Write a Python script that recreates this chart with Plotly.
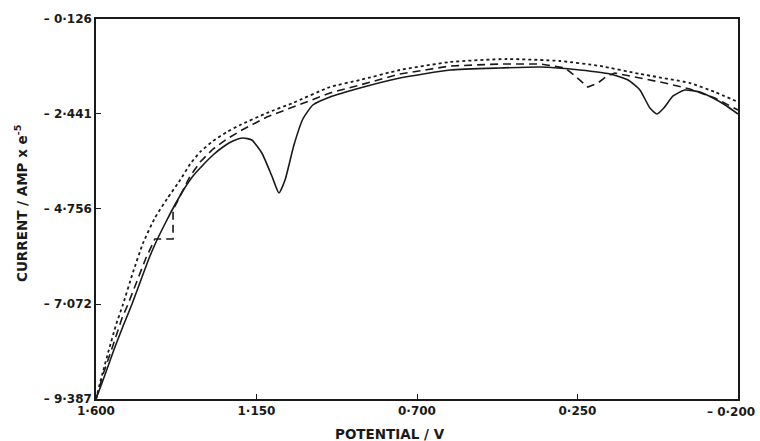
import plotly.graph_objects as go

# ---- data ----
solid_x = [1.600, 1.575, 1.550, 1.524, 1.499, 1.474, 1.451, 1.429, 1.404, 1.379, 1.353, 1.328, 1.300, 1.272,
           1.244, 1.216, 1.188, 1.163, 1.135, 1.107, 1.087, 1.070, 1.045, 1.020, 0.992, 0.944, 0.860, 0.748,
           0.607, 0.467, 0.355, 0.243, 0.159, 0.108, 0.075, 0.047, 0.027, 0.008, -0.018, -0.051, -0.093,
           -0.130, -0.164, -0.200]
solid_y = [-9.387, -8.802, -8.193, -7.608, -7.072, -6.487, -5.951, -5.512, -5.073, -4.659, -4.269, -3.952, -3.684, -3.440,
           -3.245, -3.099, -3.026, -3.075, -3.392, -3.952, -4.367, -4.050, -3.197, -2.563, -2.222, -2.027, -1.808, -1.564,
           -1.369, -1.320, -1.296, -1.369, -1.466, -1.613, -1.856, -2.295, -2.441, -2.295, -2.002, -1.856, -1.905,
           -2.051, -2.222, -2.441]

dashed_x = [1.600, 1.578, 1.552, 1.527, 1.510, 1.485, 1.460, 1.435, 1.384, 1.384, 1.362, 1.336, 1.308, 1.272,
            1.233, 1.196, 1.121, 1.048, 0.992, 0.944, 0.860, 0.748, 0.607, 0.467, 0.355, 0.285, 0.257, 0.221,
            0.193, 0.167, 0.145, 0.075, 0.005, -0.065, -0.135, -0.200]
dashed_y = [-9.387, -8.729, -8.071, -7.413, -7.072, -6.487, -5.951, -5.488, -5.488, -4.781, -4.391, -3.952, -3.611, -3.294,
            -3.050, -2.856, -2.514, -2.271, -2.100, -1.929, -1.734, -1.466, -1.271, -1.223, -1.223, -1.320, -1.515, -1.783,
            -1.686, -1.515, -1.442, -1.564, -1.686, -1.832, -2.051, -2.344]

dotted_x = [1.600, 1.583, 1.564, 1.544, 1.524, 1.496, 1.468, 1.435, 1.401, 1.364, 1.336, 1.308, 1.272, 1.233,
            1.196, 1.121, 1.048, 0.944, 0.860, 0.748, 0.607, 0.448, 0.299, 0.187, 0.075, -0.065, -0.135, -0.200]
dotted_y = [-9.387, -8.802, -8.193, -7.584, -7.072, -6.292, -5.585, -4.976, -4.513, -4.050, -3.660, -3.367, -3.099, -2.880,
            -2.709, -2.417, -2.173, -1.783, -1.613, -1.369, -1.174, -1.101, -1.150, -1.271, -1.466, -1.686, -1.905, -2.149]

y_ticks = [-9.387, -7.072, -4.756, -2.441, -0.126]
y_tick_text = ["\u2013 9\u00b7387", "\u2013 7\u00b7072", "\u2013 4\u00b7756", "\u2013 2\u00b7441", "\u2013 0\u00b7126"]
x_ticks = [1.600, 1.150, 0.700, 0.250, -0.200]
x_tick_text = ["1\u00b7600", "1\u00b7150", "0\u00b7700", "0\u00b7250", "\u2013 0\u00b7200"]

FONT = "DejaVu Sans"
INK = "#1a1a1a"

fig = go.Figure()
fig.add_trace(go.Scatter(x=dotted_x, y=dotted_y, mode="lines",
                         line=dict(color=INK, width=1.8, dash="dot", shape="spline", smoothing=0.5)))
fig.add_trace(go.Scatter(x=dashed_x, y=dashed_y, mode="lines",
                         line=dict(color=INK, width=1.6, dash="8px,5px", shape="linear")))
fig.add_trace(go.Scatter(x=solid_x, y=solid_y, mode="lines",
                         line=dict(color=INK, width=1.6, shape="spline", smoothing=0.5)))

tickfont = dict(family=FONT, size=12, color=INK, weight="bold")
fig.update_layout(
    width=760, height=441,
    margin=dict(l=96, r=22, t=19, b=42, autoexpand=False),
    paper_bgcolor="white", plot_bgcolor="white",
    showlegend=False,
    font=dict(family=FONT, color=INK, size=13),
    xaxis=dict(range=[1.6, -0.2], tickvals=x_ticks[:-1], ticktext=x_tick_text[:-1],
               ticks="inside", ticklen=5, tickwidth=1.3, tickcolor=INK,
               showline=True, linecolor=INK, linewidth=1.5, mirror=True,
               showgrid=False, zeroline=False, automargin=False,
               ticklabeloverflow="allow", tickfont=tickfont),
    yaxis=dict(range=[-9.387, -0.126], tickvals=y_ticks, ticktext=y_tick_text,
               ticks="inside", ticklen=5, tickwidth=1.3, tickcolor=INK,
               showline=True, linecolor=INK, linewidth=1.5, mirror=True,
               showgrid=False, zeroline=False, automargin=False,
               ticklabeloverflow="allow", tickfont=tickfont),
)

# last x tick label, right-aligned so it stays inside the page
fig.add_annotation(text=x_tick_text[-1], xref="x", yref="paper",
                   x=x_ticks[-1], y=-(412 - 399) / 380, xanchor="right", yanchor="middle",
                   xshift=19, showarrow=False, font=tickfont)

fig.add_annotation(text="POTENTIAL / V", xref="paper", yref="paper",
                   x=(390 - 96) / 642, y=-(434 - 399) / 380, xanchor="center", yanchor="middle",
                   showarrow=False, font=dict(family=FONT, size=13.5, color=INK, weight="bold"))
fig.add_annotation(text="CURRENT / AMP x e<sup>-5</sup>", xref="paper", yref="paper",
                   x=-(96 - 21) / 642, y=(399 - 204) / 380, xanchor="center", yanchor="middle",
                   textangle=-90, showarrow=False,
                   font=dict(family=FONT, size=13.5, color=INK, weight="bold"))

fig.write_html("out.html", config={"displayModeBar": False},
               post_script="document.body.style.margin='0px';")
